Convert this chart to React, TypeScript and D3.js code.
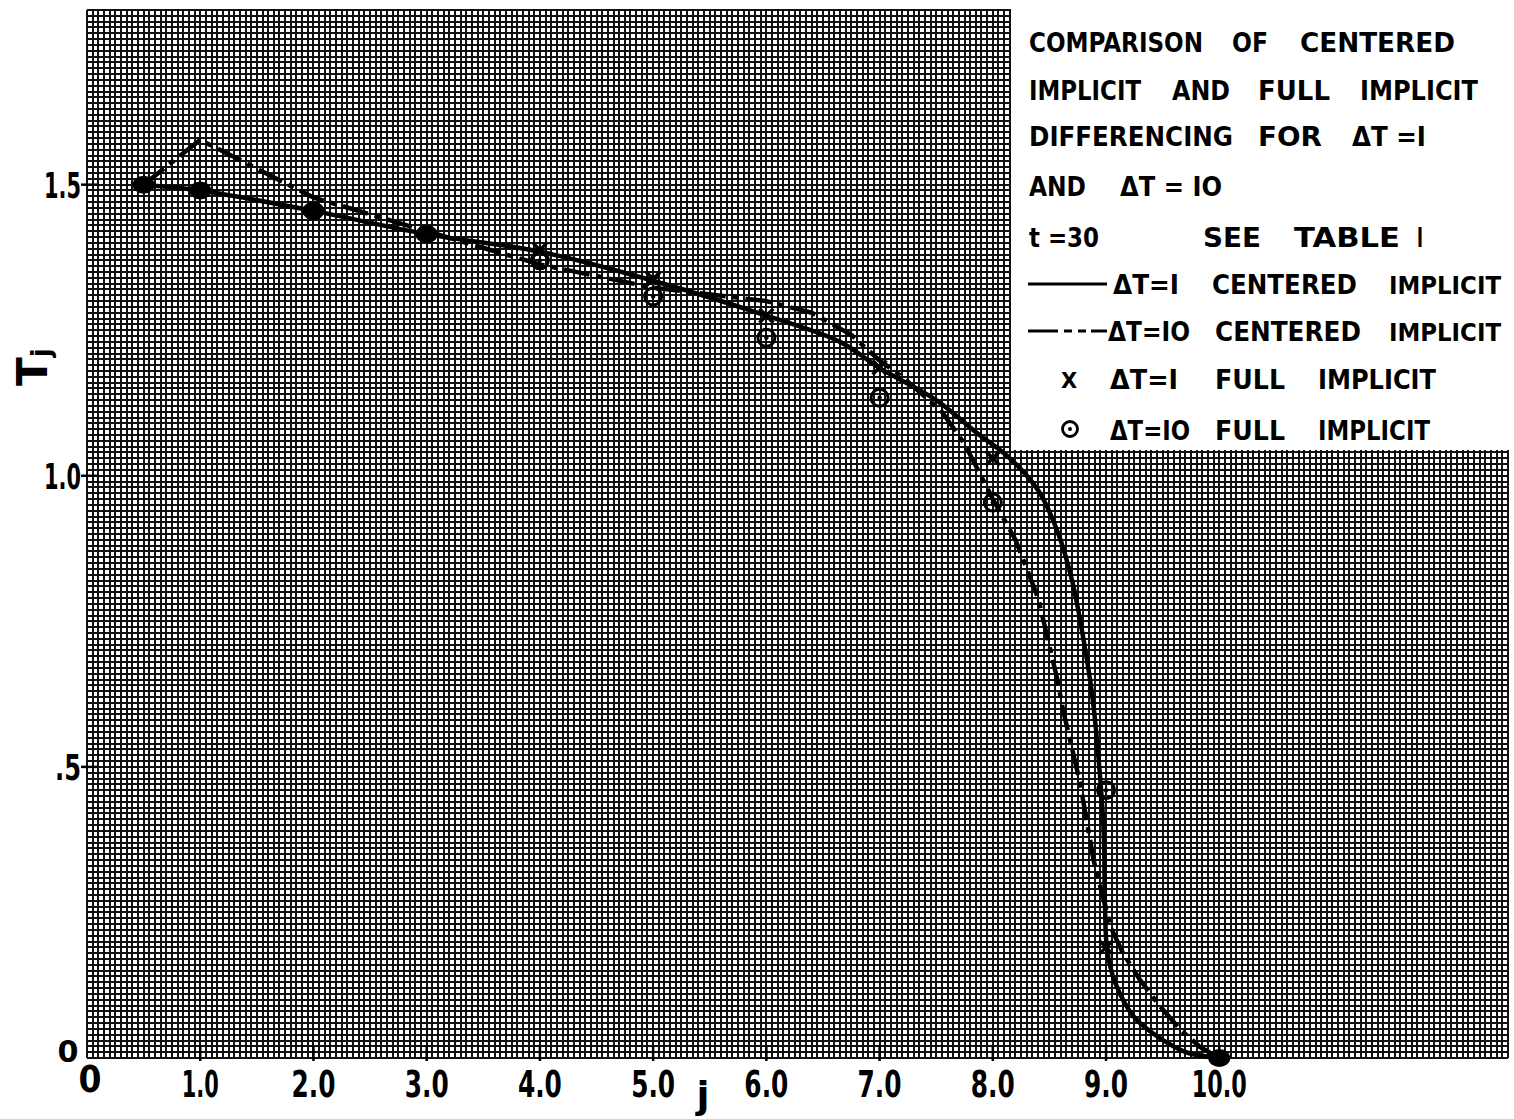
import React from 'react';
import * as d3 from 'd3';

// ---------- data ----------
const X_MAX = 12.55;
const Y_MAX = 1.8;

// ΔT = 1 centered implicit (solid curve)
const ci1J = [0.5, 1, 2, 3, 4, 5, 6, 6.65, 7, 7.5, 7.85, 8.15, 8.4, 8.57, 8.7, 8.8, 8.88, 8.94, 8.98, 8.99, 9.01, 9.08, 9.25, 9.5, 9.72, 10];
const ci1T = [1.5, 1.49, 1.455, 1.415, 1.385, 1.335, 1.275, 1.23, 1.185, 1.13, 1.075, 1.03, 0.975, 0.905, 0.82, 0.72, 0.62, 0.5, 0.385, 0.27, 0.185, 0.13, 0.07, 0.031, 0.009, 0];

// ΔT = 10 centered implicit (dash-dot curve)
const ci10J = [0.5, 1, 2, 3, 4, 5, 6, 6.4, 6.75, 7, 7.2, 7.55, 7.75, 8, 8.2, 8.4, 8.57, 8.62, 8.77, 8.89, 8.95, 9.04, 9.15, 9.3, 9.48, 9.66, 9.83, 10];
const ci10T = [1.5, 1.577, 1.478, 1.42, 1.363, 1.323, 1.3, 1.28, 1.242, 1.198, 1.17, 1.11, 1.055, 0.96, 0.89, 0.79, 0.65, 0.598, 0.473, 0.34, 0.294, 0.225, 0.18, 0.134, 0.088, 0.048, 0.019, 0];

// Full implicit results at the mesh points
const fiJ = [0.5, 1, 2, 3, 4, 5, 6, 7, 8, 9, 10];
const fi1T = [1.5, 1.49, 1.455, 1.415, 1.388, 1.338, 1.275, 1.186, 1.03, 0.19, 0];
const fi10T = [1.5, 1.49, 1.455, 1.415, 1.37, 1.308, 1.237, 1.134, 0.954, 0.46, 0];

const xTickValues = [1, 2, 3, 4, 5, 6, 7, 8, 9, 10];
const xTickLabels = ['1.0', '2.0', '3.0', '4.0', '5.0', '6.0', '7.0', '8.0', '9.0', '10.0'];
const yTickValues = [0.5, 1.0, 1.5];
const yTickLabels = ['.5', '1.0', '1.5'];

const legendTitle = [
  ['COMPARISON', 'OF', 'CENTERED'],
  ['IMPLICIT', 'AND', 'FULL', 'IMPLICIT'],
  ['DIFFERENCING', 'FOR', 'ΔT =I'],
  ['AND', 'ΔT = IO'],
  ['t =30', 'SEE', 'TABLE', 'I'],
];
const legendEntries = [
  ['ΔT=I', 'CENTERED', 'IMPLICIT'],
  ['ΔT=IO', 'CENTERED', 'IMPLICIT'],
  ['ΔT=I', 'FULL', 'IMPLICIT'],
  ['ΔT=IO', 'FULL', 'IMPLICIT'],
];

// ---------- layout ----------
const W = 1514;
const H = 1119;
const titleLayout = [
  { y: 52, xs: [[1029, 174], [1232, 36], [1300, 155]] },
  { y: 100, xs: [[1029, 112], [1172, 58], [1258, 72], [1360, 118]] },
  { y: 146, xs: [[1029, 204], [1258, 64], [1352, 74]] },
  { y: 196, xs: [[1029, 57], [1120, 102]] },
  { y: 247, xs: [[1029, 70], [1203, 58], [1294, 106], [1417, 6]] },
];
const entryLayout = [
  { y: 294, xs: [[1113, 66, 27], [1212, 145, 27], [1389, 112, 24]] },
  { y: 341, xs: [[1108, 82, 27], [1215, 146, 27], [1389, 112, 24]] },
  { y: 389, xs: [[1110, 68, 27], [1215, 70, 27], [1318, 118, 27]] },
  { y: 440, xs: [[1110, 80, 27], [1215, 70, 27], [1318, 112, 27]] },
];

const FONT = '"DejaVu Sans", Verdana, sans-serif';

function labelWidth(s: string): number {
  let w = 0;
  for (const c of s) w += c === '1' ? 11 : c === '.' ? 8 : 18;
  return w;
}

export default function App() {
  const xs = d3.scaleLinear().domain([0, X_MAX]).range([87, 1508]);
  const ys = d3.scaleLinear().domain([0, Y_MAX]).range([1058, 10]);

  // grid
  let grid = '';
  const nv = Math.round(X_MAX * 20);
  for (let i = 0; i <= nv; i++) {
    const x = Math.round(xs(i / 20));
    grid += `M${x},${ys(Y_MAX)}V${ys(0)}`;
  }
  const nh = Math.round(Y_MAX * 100);
  for (let i = 0; i <= nh; i++) {
    const y = Math.round(ys(i / 100));
    grid += `M${xs(0)},${y}H${xs(X_MAX)}`;
  }

  const solid = d3
    .line<number>()
    .x((_, i) => xs(ci1J[i]))
    .y((d) => ys(d))
    .curve(d3.curveCatmullRom.alpha(0.5))(ci1T) as string;
  const dashed = d3
    .line<number>()
    .x((_, i) => xs(ci10J[i]))
    .y((d) => ys(d))
    .curve(d3.curveLinear)(ci10T) as string;

  const blobs = fiJ.filter((_, i) => Math.abs(fi1T[i] - fi10T[i]) < 0.005);

  return (
    <svg
      width={W}
      height={H}
      viewBox={`0 0 ${W} ${H}`}
      style={{ position: 'absolute', left: 0, top: 0, display: 'block', background: '#fff' }}
    >
      <rect x={0} y={0} width={W} height={H} fill="#fff" />
      <path d={grid} stroke="#111" strokeWidth={2} fill="none" shapeRendering="crispEdges" />
      {/* legend panel */}
      <rect x={1011} y={0} width={W - 1011} height={450} fill="#fff" />

      {/* axis ticks */}
      {xTickValues.map((v) => (
        <line key={'xt' + v} x1={xs(v)} x2={xs(v)} y1={ys(0) - 12} y2={ys(0) + 3} stroke="#000" strokeWidth={2.5} />
      ))}
      {yTickValues.map((v) => (
        <line key={'yt' + v} x1={xs(0) - 6} x2={xs(0) + 10} y1={ys(v)} y2={ys(v)} stroke="#000" strokeWidth={2.5} />
      ))}

      {/* curves */}
      <path d={solid} fill="none" stroke="#000" strokeWidth={4.5} strokeLinejoin="round" strokeLinecap="round" />
      <path d={dashed} fill="none" stroke="#000" strokeWidth={4.5} strokeDasharray="26 7 6 7" strokeLinejoin="round" />

      {/* full implicit ΔT=10 circles */}
      {fiJ.map((j, i) =>
        blobs.includes(j) ? null : (
          <g key={'c' + j}>
            <circle cx={xs(j)} cy={ys(fi10T[i])} r={8.5} fill="none" stroke="#000" strokeWidth={3} />
            <circle cx={xs(j)} cy={ys(fi10T[i])} r={2.2} fill="#000" />
          </g>
        )
      )}
      {/* full implicit ΔT=1 crosses */}
      {fiJ.map((j, i) =>
        blobs.includes(j) ? null : (
          <g key={'x' + j} stroke="#000" strokeWidth={3.5}>
            <line x1={xs(j) - 7} x2={xs(j) + 7} y1={ys(fi1T[i]) - 7} y2={ys(fi1T[i]) + 7} />
            <line x1={xs(j) - 7} x2={xs(j) + 7} y1={ys(fi1T[i]) + 7} y2={ys(fi1T[i]) - 7} />
          </g>
        )
      )}
      {/* coincident results drawn as filled blobs */}
      {blobs.map((j) => (
        <ellipse key={'b' + j} cx={xs(j)} cy={ys(fi1T[fiJ.indexOf(j)])} rx={11} ry={9} fill="#000" />
      ))}

      {/* tick labels */}
      {xTickValues.map((v, i) => (
        <text
          key={'xl' + v}
          x={xs(v)}
          y={1097}
          fontFamily={FONT}
          fontWeight="bold"
          fontSize={38}
          textAnchor="middle"
          textLength={labelWidth(xTickLabels[i])}
          lengthAdjust="spacingAndGlyphs"
        >
          {xTickLabels[i]}
        </text>
      ))}
      {yTickValues.map((v, i) => (
        <text
          key={'yl' + v}
          x={81}
          y={ys(v) + 13}
          fontFamily={FONT}
          fontWeight="bold"
          fontSize={36}
          textAnchor="end"
          textLength={labelWidth(yTickLabels[i])}
          lengthAdjust="spacingAndGlyphs"
        >
          {yTickLabels[i]}
        </text>
      ))}
      <text x={68} y={1062} fontFamily={FONT} fontWeight="bold" fontSize={30} textAnchor="middle" textLength={21} lengthAdjust="spacingAndGlyphs">0</text>
      <text x={90} y={1092} fontFamily={FONT} fontWeight="bold" fontSize={37} textAnchor="middle" textLength={23} lengthAdjust="spacingAndGlyphs">0</text>

      {/* axis titles */}
      <text x={703} y={1108} fontFamily={FONT} fontWeight="bold" fontSize={38} textAnchor="middle">j</text>
      <text transform="translate(47,386) rotate(-90)" fontFamily={FONT} fontWeight="bold" fontSize={42}>
        T<tspan fontSize={26} dy={3}>j</tspan>
      </text>

      {/* legend text */}
      {legendTitle.map((words, r) =>
        words.map((w, k) => (
          <text
            key={'lt' + r + '-' + k}
            x={titleLayout[r].xs[k][0]}
            y={titleLayout[r].y}
            fontFamily={FONT}
            fontWeight="bold"
            fontSize={27}
            textLength={titleLayout[r].xs[k][1]}
            lengthAdjust="spacingAndGlyphs"
          >
            {w}
          </text>
        ))
      )}
      {legendEntries.map((words, r) =>
        words.map((w, k) => (
          <text
            key={'le' + r + '-' + k}
            x={entryLayout[r].xs[k][0]}
            y={entryLayout[r].y}
            fontFamily={FONT}
            fontWeight="bold"
            fontSize={entryLayout[r].xs[k][2]}
            textLength={entryLayout[r].xs[k][1]}
            lengthAdjust="spacingAndGlyphs"
          >
            {w}
          </text>
        ))
      )}
      {/* legend symbols */}
      <line x1={1028} x2={1107} y1={284} y2={284} stroke="#000" strokeWidth={3} />
      <path d="M1028,331H1058M1064,331H1072M1078,331H1086M1091,331H1107" stroke="#000" strokeWidth={3} />
      <text x={1069} y={388} fontFamily={FONT} fontWeight="bold" fontSize={21} textAnchor="middle">X</text>
      <circle cx={1070} cy={429} r={7.5} fill="none" stroke="#000" strokeWidth={2.8} />
      <circle cx={1070} cy={429} r={2} fill="#000" />
    </svg>
  );
}
